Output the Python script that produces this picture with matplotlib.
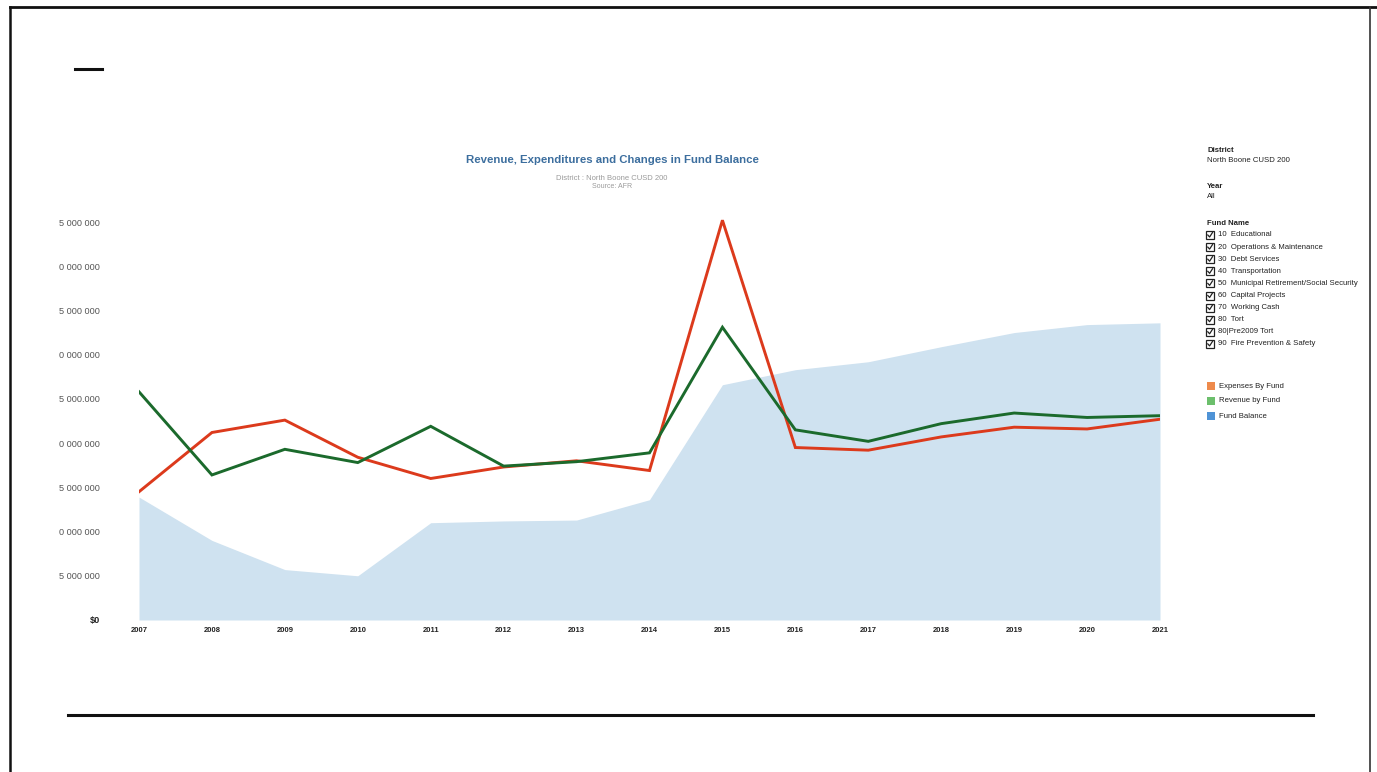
import matplotlib
matplotlib.use("Agg")
import matplotlib.pyplot as plt
from matplotlib.lines import Line2D
from matplotlib.patches import Rectangle
import numpy as np

plt.rcParams['font.family'] = ['Liberation Sans', 'DejaVu Sans']

years = list(range(2007, 2022))
expenses = [14.5, 21.2, 22.6, 18.4, 16.0, 17.3, 18.0, 16.9, 45.2,
            19.5, 19.2, 20.7, 21.8, 21.6, 22.7]
revenue = [25.8, 16.4, 19.3, 17.8, 21.9, 17.4, 17.9, 18.9, 33.1,
           21.5, 20.2, 22.2, 23.4, 22.9, 23.1]
balance = [13.9, 9.0, 5.7, 5.0, 11.0, 11.2, 11.3, 13.6, 26.6,
           28.3, 29.2, 30.9, 32.5, 33.4, 33.6]
# values in millions of dollars
expenses = [v * 1e6 for v in expenses]
revenue = [v * 1e6 for v in revenue]
balance = [v * 1e6 for v in balance]

ytick_vals = [0, 5e6, 10e6, 15e6, 20e6, 25e6, 30e6, 35e6, 40e6, 45e6]
ytick_labels = ['$0', '5 000 000', '0 000 000', '5 000 000', '0 000 000',
                '5 000.000', '0 000 000', '5 000 000', '0 000 000', '5 000 000']

fund_names = ['10  Educational', '20  Operations & Maintenance', '30  Debt Services',
              '40  Transportation', '50  Municipal Retirement/Social Security',
              '60  Capital Projects', '70  Working Cash', '80  Tort',
              '80|Pre2009 Tort', '90  Fire Prevention & Safety']
legend_names = ['Expenses By Fund', 'Revenue by Fund', 'Fund Balance']
legend_colors = ['#ee8a4c', '#6cbf6c', '#4f93d6']

W, H = 1377, 772
fig = plt.figure(figsize=(W / 100, H / 100), dpi=100)

# plot area: 2007 at x=139, 2021 at x=1160; $0 at y=620, 45M at y=222
px_per_5m = (620 - 222) / 9
top_px = 620 - 47 / 5 * px_per_5m
ax = fig.add_axes([139 / W, 1 - 620 / H, (1160 - 139) / W, (620 - top_px) / H])

ax.fill_between(years, balance, 0, color='#cfe2f0', lw=0, zorder=1)
ax.plot(years, expenses, color='#dc3a1c', lw=2.1, zorder=3, solid_joinstyle='miter')
ax.plot(years, revenue, color='#1b6a2c', lw=2.1, zorder=4, solid_joinstyle='miter')

ax.set_xlim(2007, 2021)
ax.set_ylim(0, 47e6)
ax.set_xticks(years)
ax.set_xticklabels([str(y) for y in years], fontsize=5.5, fontweight='bold', color='#222222')
ax.set_yticks(ytick_vals)
ax.set_yticklabels(ytick_labels, fontsize=6.6, color='#555555')
ax.get_yticklabels()[0].set_fontweight('bold')
ax.get_yticklabels()[0].set_color('#222222')
ax.tick_params(axis='x', length=0, pad=5)
ax.tick_params(axis='y', length=0, pad=28)
for s in ax.spines.values():
    s.set_visible(False)

# titles
fig.text(612 / W, 1 - 160 / H, 'Revenue, Expenditures and Changes in Fund Balance',
         ha='center', va='center', fontsize=8.2, fontweight='bold', color='#3c6e9e')
fig.text(612 / W, 1 - 179 / H, 'District : North Boone CUSD 200',
         ha='center', va='center', fontsize=5.5, color='#9a9a9a')
fig.text(612 / W, 1 - 187 / H, 'Source: AFR',
         ha='center', va='center', fontsize=5, color='#9a9a9a')

# right-hand filter panel
x0 = 1207 / W
def t(y, s, bold=False, x=x0, size=5.6):
    fig.text(x, 1 - y / H, s, ha='left', va='center', fontsize=size,
             fontweight='bold' if bold else 'normal', color='#222222')

t(150, 'District', bold=True)
t(160, 'North Boone CUSD 200')
t(187, 'Year', bold=True)
t(197, 'All')
t(224, 'Fund Name', bold=True)
for i, name in enumerate(fund_names):
    y = 235 + i * 12.1
    fig.patches.append(Rectangle((1206 / W, 1 - (y + 4) / H), 8 / W, 8 / H,
                                 transform=fig.transFigure, fill=False,
                                 lw=0.9, ec='#222222'))
    fig.lines.append(Line2D([1207.8 / W, 1209.6 / W, 1212.5 / W],
                            [1 - y / H, 1 - (y + 2) / H, 1 - (y - 2.5) / H],
                            transform=fig.transFigure, lw=0.9, color='#222222'))
    t(y, name, x=1218 / W)

for i, (name, c) in enumerate(zip(legend_names, legend_colors)):
    y = 386 + i * 15
    fig.patches.append(Rectangle((1207 / W, 1 - (y + 4) / H), 8 / W, 8 / H,
                                 transform=fig.transFigure, color=c, lw=0))
    t(y, name, x=1219 / W)

# scanned page decorations
def hline(x1, x2, y, lw):
    fig.lines.append(Line2D([x1 / W, x2 / W], [1 - y / H, 1 - y / H],
                            transform=fig.transFigure, color='#111111', lw=lw))

hline(10, 1377, 7, 2)
fig.lines.append(Line2D([10 / W, 10 / W], [1 - 7 / H, 0], transform=fig.transFigure,
                        color='#111111', lw=1.8))
fig.lines.append(Line2D([1370 / W, 1370 / W], [1 - 7 / H, 0], transform=fig.transFigure,
                        color='#333333', lw=1.2))
hline(75, 102, 69, 2.2)
hline(68, 1313, 715, 2.2)

fig.savefig('out.png', dpi=100)
